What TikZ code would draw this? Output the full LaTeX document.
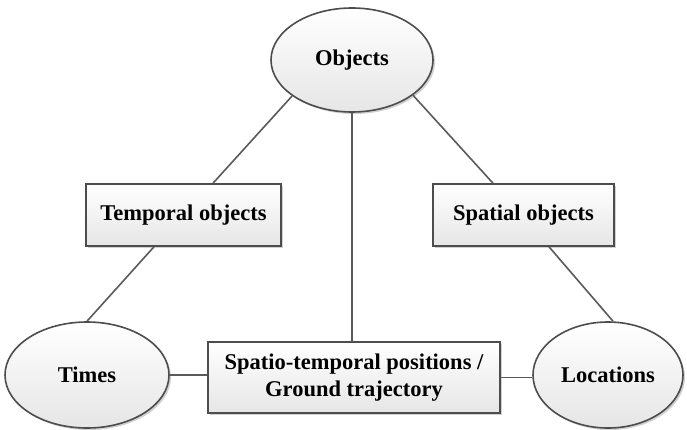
\documentclass[tikz,border=0pt]{standalone}
\usepackage{fontspec}
\setmainfont{Liberation Serif}
\usetikzlibrary{shapes.geometric,shadows,calc}
\definecolor{edgegray}{HTML}{4D4D4D}
\definecolor{linegray}{HTML}{5A5A5A}
\definecolor{fillbot}{HTML}{E6E6E6}
\tikzset{
  shapebase/.style={draw=edgegray, line width=1.6pt, top color=white, bottom color=fillbot,
    drop shadow={shadow xshift=2pt, shadow yshift=-2pt, opacity=0.18, fill=black},
    font=\rmfamily\bfseries\fontsize{22.5}{27}\selectfont, inner sep=0pt, text=black},
  oval/.style={shapebase, ellipse},
  rbox/.style={shapebase, rectangle, align=center},
  link/.style={draw=linegray, line width=1.6pt}
}
\begin{document}
\begin{tikzpicture}[x=1pt,y=1pt]
  \useasboundingbox (0,0) rectangle (687,429);

  % entities
  \node[oval, minimum width=162pt, minimum height=104pt] (obj) at (352,369) {Objects};
  \node[oval, minimum width=164pt, minimum height=106pt] (times) at (87,54) {Times};
  \node[oval, minimum width=150pt, minimum height=106pt] (loc) at (608,54) {Locations};

  % relations
  \node[rbox, minimum width=195pt, minimum height=62pt] (tmp) at (183.5,214) {Temporal objects};
  \node[rbox, minimum width=181pt, minimum height=62pt] (sp) at (523.5,214) {Spatial objects};
  \node[rbox, minimum width=292pt, minimum height=71pt] (mid) at (354,51.5)
    {Spatio-temporal positions /\\Ground trajectory};

  % connectors
  \draw[link] (obj.211.7) -- ($(tmp.north)+(29.5,0)$);
  \draw[link] ($(tmp.south)+(-29.5,0)$) -- (times.north);
  \draw[link] (obj.330.3) -- ($(sp.north)+(-30.5,0)$);
  \draw[link] ($(sp.south)+(25.5,0)$) -- ($(loc.north)+(5,0)$);
  \draw[link] (obj.south) -- (obj.south |- mid.north);
  \draw[link] (times.east) -- (times.east -| mid.west);
  \draw[link] (mid.east) -- (mid.east -| loc.west);
\end{tikzpicture}
\end{document}
